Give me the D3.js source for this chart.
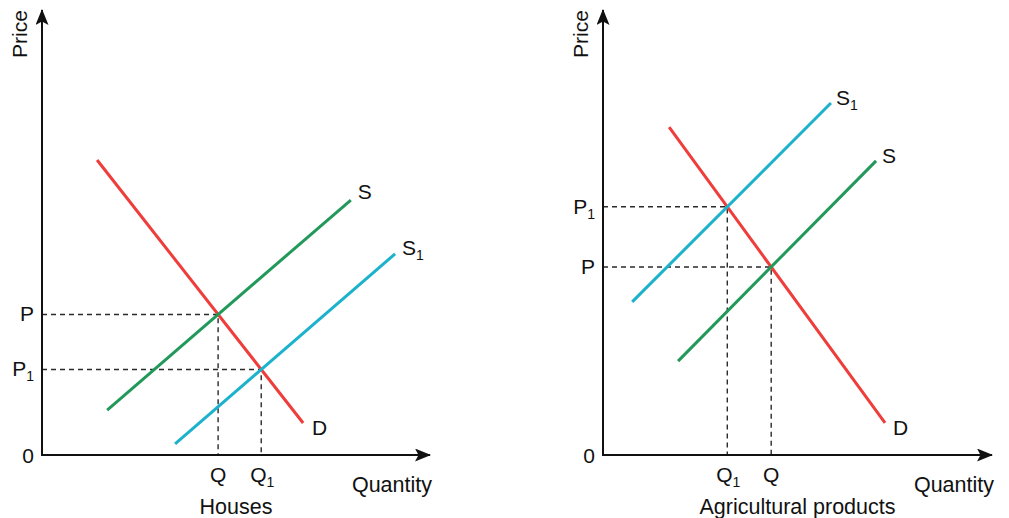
<!DOCTYPE html>
<html>
<head>
<meta charset="utf-8">
<script src="https://cdn.jsdelivr.net/npm/d3@7"></script>
<style>
  html, body { margin: 0; padding: 0; background: #fff; }
  svg { display: block; font-family: "Liberation Sans", Arial, Helvetica, sans-serif; }
</style>
</head>
<body>
<svg id="chart" width="1009" height="518"></svg>
<script>
// Supply and demand curves, each given by its two end points (quantity, price)
const housesDemand  = [[1.42, 6.63], [6.73, 0.72]];
const housesSupply  = [[1.68, 1.01], [7.96, 5.73]];
const housesSupply1 = [[3.43, 0.25], [9.10, 4.52]];

const agriDemand  = [[1.70, 7.37], [7.25, 0.72]];
const agriSupply  = [[1.93, 2.11], [7.02, 6.61]];
const agriSupply1 = [[0.75, 3.44], [5.86, 7.91]];

const axisMax = 10;

const colors = { demand: "#ee3d3a", supply: "#22995a", supply1: "#1cb2cc" };
const fontSize = 21;
const wordSize = 21.5;
const subSize = 14;

const panels = [
  {
    title: "Houses",
    x0: 42, x1: 430, y0: 455, y1: 10,
    curves: [
      { name: "D",  sub: null, key: "demand",  pts: housesDemand,  lab: [9, 12] },
      { name: "S",  sub: null, key: "supply",  pts: housesSupply,  lab: [7, -1] },
      { name: "S",  sub: "1",  key: "supply1", pts: housesSupply1, lab: [7, 1] }
    ],
    eq: [
      { s: 1, p: ["P", null], q: ["Q", null] },
      { s: 2, p: ["P", "1"],  q: ["Q", "1"] }
    ]
  },
  {
    title: "Agricultural products",
    x0: 603, x1: 992, y0: 455, y1: 10,
    curves: [
      { name: "D",  sub: null, key: "demand",  pts: agriDemand,  lab: [8, 12] },
      { name: "S",  sub: null, key: "supply",  pts: agriSupply,  lab: [6, 2] },
      { name: "S",  sub: "1",  key: "supply1", pts: agriSupply1, lab: [5, 2] }
    ],
    eq: [
      { s: 1, p: ["P", null], q: ["Q", null] },
      { s: 2, p: ["P", "1"],  q: ["Q", "1"] }
    ]
  }
];

const svg = d3.select("#chart");

// Arrowhead for the axes
svg.append("defs").append("marker")
  .attr("id", "arrow")
  .attr("viewBox", "0 0 16 13")
  .attr("refX", 15).attr("refY", 6.5)
  .attr("markerWidth", 16).attr("markerHeight", 13)
  .attr("markerUnits", "userSpaceOnUse")
  .attr("orient", "auto")
  .append("path")
  .attr("d", "M0,0 L16,6.5 L0,13 L3.5,6.5 Z")
  .attr("fill", "#111");

function intersect(a, b) {
  const [[ax1, ay1], [ax2, ay2]] = a;
  const [[bx1, by1], [bx2, by2]] = b;
  const ma = (ay2 - ay1) / (ax2 - ax1);
  const mb = (by2 - by1) / (bx2 - bx1);
  const x = (by1 - ay1 + ma * ax1 - mb * bx1) / (ma - mb);
  return [x, ay1 + ma * (x - ax1)];
}

function label(g, x, y, main, sub, anchor) {
  const t = g.append("text")
    .attr("x", x).attr("y", y)
    .attr("text-anchor", anchor || "start")
    .attr("font-size", fontSize)
    .attr("fill", "#111");
  t.append("tspan").text(main);
  if (sub) {
    t.append("tspan").attr("font-size", subSize).attr("dy", 5).text(sub);
  }
  return t;
}

panels.forEach(p => {
  const x = d3.scaleLinear().domain([0, axisMax]).range([p.x0, p.x1]);
  const y = d3.scaleLinear().domain([0, axisMax]).range([p.y0, p.y1]);
  const g = svg.append("g");

  // Dashed guides to the equilibria
  const demand = p.curves[0].pts;
  p.eq.forEach(e => {
    const [qx, py] = intersect(demand, p.curves[e.s].pts);
    g.append("path")
      .attr("d", `M${x(0)},${y(py)} H${x(qx)} V${y(0)}`)
      .attr("fill", "none")
      .attr("stroke", "#2a2a2a")
      .attr("stroke-width", 1.4)
      .attr("stroke-dasharray", "5,4");
    label(g, x(0) - 8, y(py) + 7, e.p[0], e.p[1], "end");
    label(g, x(qx) + (e.q[1] ? 1 : 0), y(0) + 27, e.q[0], e.q[1], "middle");
  });

  // Curves
  const line = d3.line().x(d => x(d[0])).y(d => y(d[1]));
  p.curves.forEach(c => {
    g.append("path")
      .attr("d", line(c.pts))
      .attr("fill", "none")
      .attr("stroke", colors[c.key])
      .attr("stroke-width", 3);
    const end = c.pts[1];
    label(g, x(end[0]) + c.lab[0], y(end[1]) + c.lab[1], c.name, c.sub, "start");
  });

  // Axes
  g.append("line")
    .attr("x1", x(0)).attr("y1", y(0) + 1).attr("x2", x(0)).attr("y2", y(axisMax))
    .attr("stroke", "#111").attr("stroke-width", 2)
    .attr("marker-end", "url(#arrow)");
  g.append("line")
    .attr("x1", x(0) - 1).attr("y1", y(0)).attr("x2", x(axisMax)).attr("y2", y(0))
    .attr("stroke", "#111").attr("stroke-width", 2)
    .attr("marker-end", "url(#arrow)");

  g.append("text")
    .attr("x", x(0) - 14).attr("y", y(0) + 8)
    .attr("text-anchor", "middle").attr("font-size", fontSize).attr("fill", "#111")
    .text("0");

  g.append("text")
    .attr("transform", `translate(${x(0) - 15},${y(axisMax) + 24}) rotate(-90)`)
    .attr("text-anchor", "middle").attr("font-size", fontSize).attr("fill", "#111")
    .text("Price");

  g.append("text")
    .attr("x", x(axisMax) + 2).attr("y", y(0) + 37)
    .attr("text-anchor", "end").attr("font-size", wordSize).attr("fill", "#111")
    .text("Quantity");

  g.append("text")
    .attr("x", (x(0) + x(axisMax)) / 2).attr("y", y(0) + 59)
    .attr("text-anchor", "middle").attr("font-size", wordSize).attr("fill", "#111")
    .text(p.title);
});
</script>
</body>
</html>
